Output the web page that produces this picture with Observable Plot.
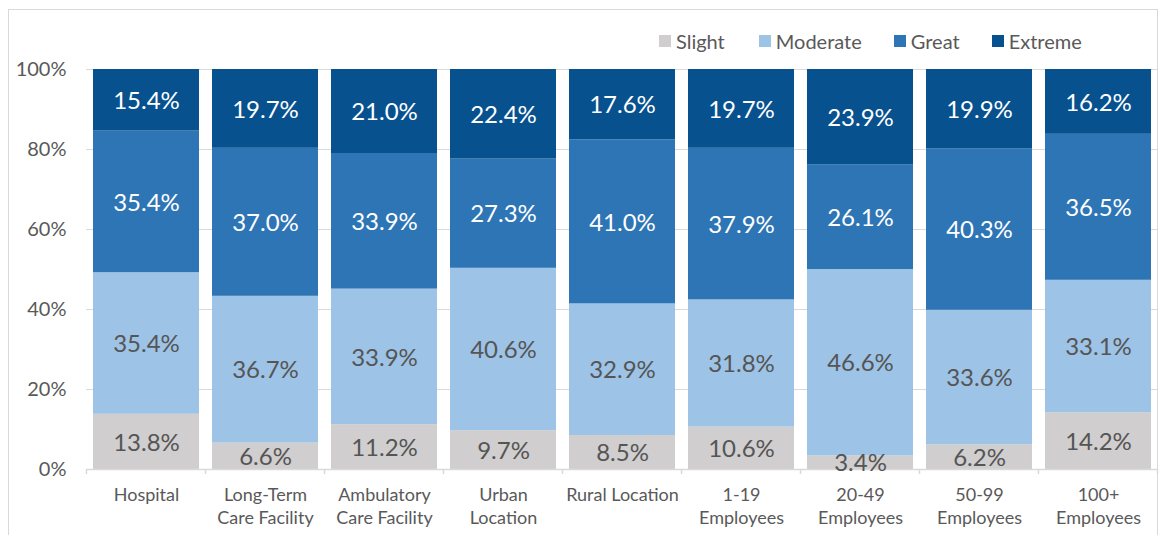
<!DOCTYPE html>
<html>
<head>
<meta charset="utf-8">
<script src="https://cdn.jsdelivr.net/npm/d3@7"></script>
<script src="https://cdn.jsdelivr.net/npm/@observablehq/plot@0.6"></script>
<style>
  html, body { margin: 0; padding: 0; background: #fff; }
  body { width: 1164px; height: 535px; overflow: hidden; font-family: Lato, "Open Sans", sans-serif; }
  #wrap { position: relative; width: 1164px; height: 535px; }
  #frame { position: absolute; left: 8px; top: 9px; width: 1150px; height: 560px; border: 1px solid #D9D9D9; box-sizing: border-box; }
  #legend { position: absolute; top: 29px; left: 659px; display: flex; font-size: 20px; color: #595959; white-space: nowrap; }
  #legend .item { display: flex; align-items: center; }
  #legend .sw { width: 12px; height: 12px; margin-right: 5px; }
  #chart { position: absolute; left: 0; top: 0; }
</style>
</head>
<body>
<div id="wrap">
  <div id="frame"></div>
  <div id="chart"></div>
  <div id="legend"></div>
</div>
<script>
const categories = ["Hospital", "Long-Term\nCare Facility", "Ambulatory\nCare Facility", "Urban\nLocation", "Rural Location", "1-19\nEmployees", "20-49\nEmployees", "50-99\nEmployees", "100+\nEmployees"];
const levels = ["Slight", "Moderate", "Great", "Extreme"];
const slight   = [13.8, 6.6, 11.2, 9.7, 8.5, 10.6, 3.4, 6.2, 14.2];
const moderate = [35.4, 36.7, 33.9, 40.6, 32.9, 31.8, 46.6, 33.6, 33.1];
const great    = [35.4, 37.0, 33.9, 27.3, 41.0, 37.9, 26.1, 40.3, 36.5];
const extreme  = [15.4, 19.7, 21.0, 22.4, 17.6, 19.7, 23.9, 19.9, 16.2];
const yTicks = [0, 20, 40, 60, 80, 100];
const colors = ["#D0CECE", "#9DC3E6", "#2E75B6", "#07518F"];
const labelColors = ["#555555", "#555555", "#FFFFFF", "#FFFFFF"];

const series = [slight, moderate, great, extreme];
const data = [];
categories.forEach((c, i) => {
  levels.forEach((l, j) => data.push({cat: c, level: l, value: series[j][i]}));
});

const labelColor = new Map(levels.map((l, j) => [l, labelColors[j]]));

const chart = Plot.plot({
  width: 1164,
  height: 535,
  marginTop: 69,
  marginBottom: 66,
  marginLeft: 86,
  marginRight: 7,
  style: {fontFamily: "Lato, 'Open Sans', sans-serif", background: "transparent", color: "#595959"},
  x: {domain: categories, paddingInner: 0.11, paddingOuter: 0.055, label: null},
  y: {domain: [0, 100], label: null},
  color: {domain: levels, range: colors},
  marks: [
    Plot.gridY(yTicks.filter(d => d > 0), {stroke: "#D9D9D9", strokeOpacity: 1}),
    Plot.barY(data, Plot.stackY({x: "cat", y: "value", fill: "level", order: levels})),
    Plot.ruleY([0], {stroke: "#D9D9D9", strokeWidth: 1.5}),
    // tick marks at band boundaries
    (index, scales, values, dims) => {
      const x = scales.x;
      const step = x.step();
      const half = (step - x.bandwidth()) / 2;
      const y0 = scales.y(0);
      const g = d3.create("svg:g").attr("stroke", "#D9D9D9").attr("stroke-width", 1.5);
      const edges = categories.map(c => x(c) - half);
      edges.push(x(categories[categories.length - 1]) + x.bandwidth() + half);
      edges.forEach(e => g.append("line").attr("x1", e).attr("x2", e).attr("y1", y0).attr("y2", y0 + 5));
      return g.node();
    },
    Plot.text(data, Plot.stackY({
      x: "cat", y: "value", z: "level", order: levels,
      text: d => d.value.toFixed(1) + "%",
      fill: d => labelColor.get(d.level),
      fontSize: 24, dy: 1
    })),
    Plot.axisY(yTicks, {tickSize: 0, tickPadding: 20, fontSize: 20, fill: "#595959", tickFormat: d => d + "%", label: null}),
    Plot.axisX({tickSize: 0, tickPadding: 16, fontSize: 18, fill: "#595959", lineHeight: 1.25, label: null})
  ]
});
document.getElementById("chart").appendChild(chart);

const legend = document.getElementById("legend");
const gaps = [34, 32, 32, 0];
levels.forEach((l, j) => {
  const item = document.createElement("div");
  item.className = "item";
  item.style.marginRight = gaps[j] + "px";
  const sw = document.createElement("div");
  sw.className = "sw";
  sw.style.background = colors[j];
  item.appendChild(sw);
  const t = document.createElement("span");
  t.textContent = l;
  item.appendChild(t);
  legend.appendChild(item);
});
</script>
</body>
</html>
